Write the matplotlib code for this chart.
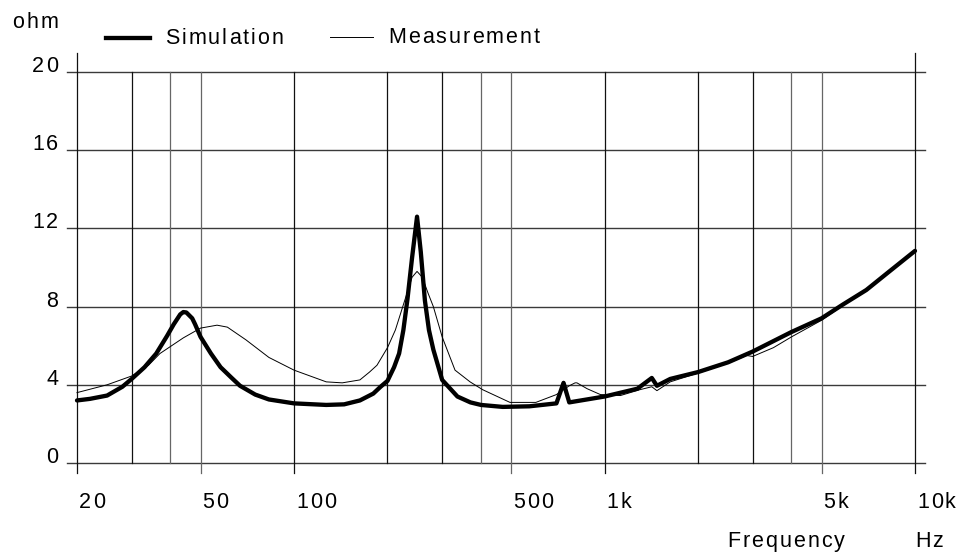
import matplotlib
matplotlib.use("Agg")
import matplotlib.pyplot as plt
from matplotlib import font_manager
from matplotlib.ft2font import FT2Font

plt.rcParams['font.family'] = ['Liberation Sans', 'DejaVu Sans']

# ---- data ----
sim_freq = [20, 22, 25, 28, 30, 33, 36, 39, 41, 43, 44, 45, 47, 48, 50, 54, 58, 63, 67,
            75, 83, 100, 127, 145, 163, 180, 190, 200, 210, 218, 225, 232, 240, 249,
            256, 264, 272, 281, 300, 336, 370, 400, 470, 573, 700, 738, 770, 804, 1000,
            1276, 1420, 1475, 1628, 2000, 2500, 3000, 4000, 5000, 5850, 6970, 8270,
            10000]
sim_ohm = [3.2, 3.28, 3.45, 3.9, 4.3, 4.9, 5.6, 6.5, 7.1, 7.6, 7.72, 7.7, 7.4, 7.1,
           6.45, 5.6, 4.9, 4.35, 3.95, 3.5, 3.25, 3.05, 2.97, 3.0, 3.2, 3.55, 3.9, 4.2,
           4.9, 5.6, 6.8, 8.4, 10.5, 12.6, 10.8, 8.3, 6.8, 5.8, 4.25, 3.4, 3.1, 2.97,
           2.87, 2.9, 3.05, 4.1, 3.1, 3.15, 3.4, 3.8, 4.35, 3.95, 4.3, 4.65, 5.15, 5.7,
           6.7, 7.4, 8.1, 8.85, 9.8, 10.85]

meas_freq = [20, 25, 30, 34, 37, 44, 50, 56.5, 61, 70, 83, 100, 127, 143, 163, 175, 185,
             200, 212, 224, 240, 249, 259, 270, 281, 300, 330, 369, 405, 496, 601, 700,
             770, 804, 815, 879, 970, 1125, 1300, 1420, 1475, 1628, 2000, 2500, 2868,
             3000, 3500, 4000, 5000, 5850, 6970, 8270, 10000]
meas_ohm = [3.6, 4.0, 4.45, 5.0, 5.6, 6.4, 6.9, 7.05, 6.95, 6.3, 5.4, 4.75, 4.15, 4.1,
            4.25, 4.65, 5.0, 5.9, 6.8, 8.0, 9.5, 9.8, 9.5, 8.7, 8.0, 6.45, 4.75, 4.15,
            3.75, 3.1, 3.1, 3.5, 3.95, 4.1, 4.1, 3.8, 3.5, 3.45, 3.75, 3.9, 3.7, 4.15,
            4.6, 5.1, 5.5, 5.45, 5.9, 6.45, 7.3, 8.05, 8.85, 9.8, 10.85]

grid_freqs = [20, 30, 40, 50, 100, 200, 300, 400, 500, 1000, 2000, 3000, 4000, 5000, 10000]
xtick_vals = [20, 50, 100, 500, 1000, 5000, 10000]
xtick_labels = ['20', '50', '100', '500', '1k', '5k', '10k']
ytick_vals = [0, 4, 8, 12, 16, 20]
ytick_labels = ['0', '4', '8', '12', '16', '20']

W, H = 961, 556
fig = plt.figure(figsize=(W / 100, H / 100), dpi=100)
L, R, T, B = 77, 915, 72, 463
ax = fig.add_axes([L / W, 1 - B / H, (R - L) / W, (B - T) / H])
ax.set_xscale('log')
ax.set_xlim(20, 10000)
ax.set_ylim(0, 20)
ax.axis('off')

xt = ax.get_xaxis_transform()
yt = ax.get_yaxis_transform()
ext_x = 10 / (R - L)
ext_top = 19 / (B - T)
ext_bot = 10 / (B - T)

for v in ytick_vals:
    ax.plot([-ext_x, 1 + ext_x], [v, v], transform=yt, color='#3a3a3a', lw=1.0,
            clip_on=False, zorder=1)
for f in grid_freqs:
    y0 = -ext_bot if f in xtick_vals else 0
    y1 = 1 + ext_top if f in (20, 10000) else 1
    c = '#666666' if f in (40, 50, 400, 500, 4000, 5000) else '#111111'
    ax.plot([f, f], [y0, y1], transform=xt, color=c, lw=0.9, clip_on=False, zorder=1)

ax.plot(meas_freq, meas_ohm, color='black', lw=0.7, zorder=3, clip_on=False)
ax.plot(sim_freq, sim_ohm, color='black', lw=3.1, zorder=4, clip_on=False,
        solid_joinstyle='round', solid_capstyle='round')

# ---- letter-spaced text helper (pixel coordinates, y from top) ----
FS = 15.5
SPACING = 2.0  # px between characters
fpath = font_manager.findfont(font_manager.FontProperties(family='Liberation Sans'))
ft = FT2Font(fpath)
ft.set_size(FS, 100)


def advance(ch):
    g = ft.load_char(ord(ch))
    return g.linearHoriAdvance / 65536.0


def stext(x, y_top, s, ha='left'):
    widths = [advance(c) for c in s]
    total = sum(widths) + SPACING * (len(s) - 1)
    x0 = x - total if ha == 'right' else x
    for c, w in zip(s, widths):
        fig.text(x0 / W, 1 - y_top / H, c, fontsize=FS, ha='left', va='baseline')
        x0 += w + SPACING


def data_px(f, v):
    px, py = ax.transData.transform((f, v))
    return px, H - py


for v, s in zip(ytick_vals, ytick_labels):
    _, py = data_px(20, v)
    stext(58, py, s, ha='right')

for f, s in zip(xtick_vals, xtick_labels):
    px, _ = data_px(f, 0)
    stext(px + 2, 508, s)

stext(58, 28, 'ohm', ha='right')
stext(727, 547, 'Frequency')
stext(915, 547, 'Hz')

fig.add_artist(plt.Line2D([106 / W, 150 / W], [1 - 38 / H, 1 - 38 / H], color='black',
                          lw=3.1, transform=fig.transFigure))
stext(165, 44, 'Simulation')
fig.add_artist(plt.Line2D([330 / W, 373 / W], [1 - 37 / H, 1 - 37 / H], color='black',
                          lw=0.7, transform=fig.transFigure))
stext(388, 43, 'Measurement')

fig.savefig('out.png', dpi=100, facecolor='white')
